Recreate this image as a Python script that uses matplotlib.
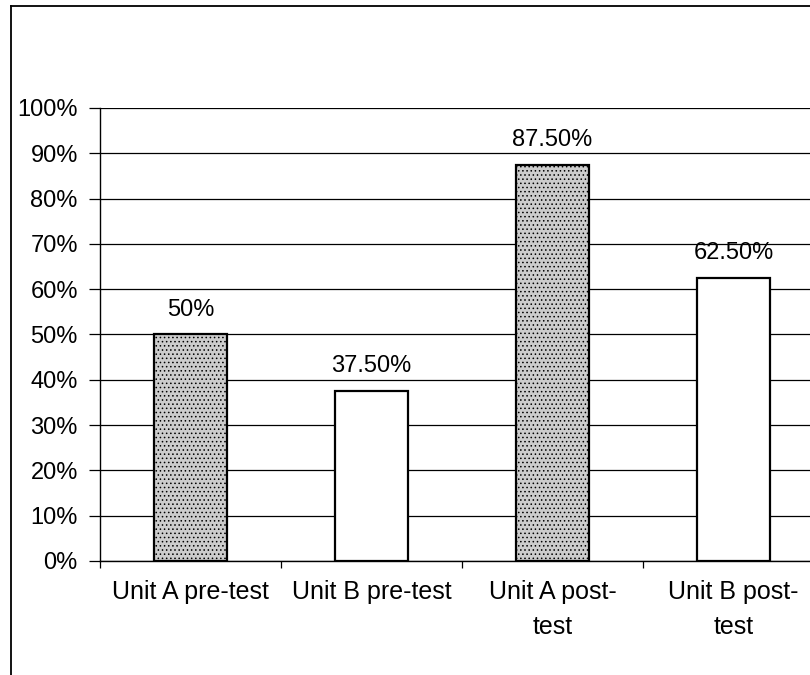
import matplotlib.pyplot as plt
import matplotlib.ticker as mticker
from matplotlib.lines import Line2D

categories = ["Unit A pre-test", "Unit B pre-test", "Unit A post-\ntest", "Unit B post-\ntest"]
scores = [50.0, 37.5, 87.5, 62.5]
labels = ["50%", "37.50%", "87.50%", "62.50%"]
fills = ["#cccccc", "white", "#cccccc", "white"]

plt.rcParams["font.family"] = ["Liberation Sans", "DejaVu Sans"]
plt.rcParams["hatch.color"] = "#8a8a8a"
plt.rcParams["hatch.linewidth"] = 0.6

fig = plt.figure(figsize=(8.1, 6.75), dpi=100)
ax = fig.add_axes([0.1235, 0.169, 0.894, 0.671])

x = list(range(len(categories)))
bars = ax.bar(x, scores, width=0.4, color=fills, edgecolor="black", linewidth=1.6, zorder=3)
for b, f in zip(bars, fills):
    if f != "white":
        b.set_hatch("....")

for xi, v, lab in zip(x, scores, labels):
    ax.annotate(lab, (xi, v), xytext=(0, 10), textcoords="offset points",
                ha="center", va="bottom", fontsize=17)

ax.set_xlim(-0.5, 3.5)
ax.set_ylim(0, 100)
ax.set_yticks(range(0, 101, 10))
ax.yaxis.set_major_formatter(mticker.FuncFormatter(lambda v, p: f"{int(v)}%"))
ax.yaxis.grid(True, color="black", linewidth=0.9, zorder=0)
ax.set_axisbelow(True)

ax.set_xticks(x)
ax.set_xticklabels(categories, fontsize=18, linespacing=1.55, va="top")
ax.set_xticks([-0.5, 0.5, 1.5, 2.5, 3.5], minor=True)
ax.tick_params(axis="x", which="major", length=0, pad=14)
ax.tick_params(axis="x", which="minor", length=5, width=0.9, direction="out")
ax.tick_params(axis="y", length=8, width=0.9, labelsize=17, pad=8)

for side in ["top", "right"]:
    ax.spines[side].set_visible(False)
ax.spines["left"].set_linewidth(1.0)
ax.spines["bottom"].set_linewidth(1.0)

# outer chart border
fig.add_artist(Line2D([0.0136, 1.0], [0.991, 0.991], color="black", linewidth=1.3))
fig.add_artist(Line2D([0.0136, 0.0136], [0.0, 0.991], color="black", linewidth=1.3))

fig.savefig("out.png", dpi=100)
